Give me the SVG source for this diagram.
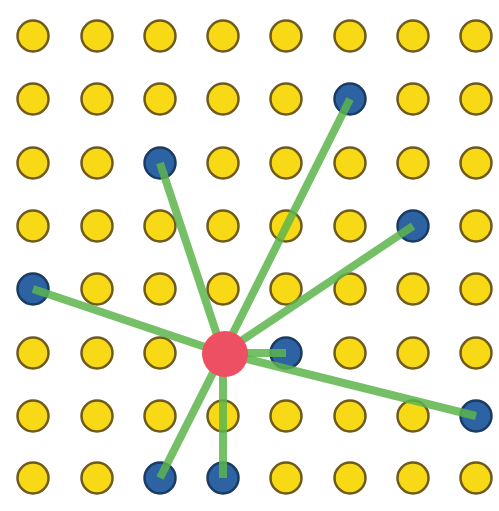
<svg xmlns="http://www.w3.org/2000/svg" width="499" height="511" viewBox="0 0 499 511">
<style>
.y{fill:#f8d916;stroke:#6e5a1c;stroke-width:2.5}
.b{fill:#2d62a3;stroke:#1a3b63;stroke-width:2.5}
.r{fill:#ec5062}
.c line{stroke:#5db54c;stroke-width:8;stroke-opacity:0.85;stroke-linecap:butt}
circle{r:15.5px}
</style>
<rect width="499" height="511" fill="#ffffff"/>
<g id="grid">
<g id="n0-0"><circle class="y" cx="33" cy="36" r="15.5"/></g>
<g id="n0-1"><circle class="y" cx="97" cy="36" r="15.5"/></g>
<g id="n0-2"><circle class="y" cx="160" cy="36" r="15.5"/></g>
<g id="n0-3"><circle class="y" cx="223" cy="36" r="15.5"/></g>
<g id="n0-4"><circle class="y" cx="286" cy="36" r="15.5"/></g>
<g id="n0-5"><circle class="y" cx="350" cy="36" r="15.5"/></g>
<g id="n0-6"><circle class="y" cx="413" cy="36" r="15.5"/></g>
<g id="n0-7"><circle class="y" cx="476" cy="36" r="15.5"/></g>
<g id="n1-0"><circle class="y" cx="33" cy="99" r="15.5"/></g>
<g id="n1-1"><circle class="y" cx="97" cy="99" r="15.5"/></g>
<g id="n1-2"><circle class="y" cx="160" cy="99" r="15.5"/></g>
<g id="n1-3"><circle class="y" cx="223" cy="99" r="15.5"/></g>
<g id="n1-4"><circle class="y" cx="286" cy="99" r="15.5"/></g>
<g id="n1-5"><circle class="b" cx="350" cy="99" r="15.5"/></g>
<g id="n1-6"><circle class="y" cx="413" cy="99" r="15.5"/></g>
<g id="n1-7"><circle class="y" cx="476" cy="99" r="15.5"/></g>
<g id="n2-0"><circle class="y" cx="33" cy="163" r="15.5"/></g>
<g id="n2-1"><circle class="y" cx="97" cy="163" r="15.5"/></g>
<g id="n2-2"><circle class="b" cx="160" cy="163" r="15.5"/></g>
<g id="n2-3"><circle class="y" cx="223" cy="163" r="15.5"/></g>
<g id="n2-4"><circle class="y" cx="286" cy="163" r="15.5"/></g>
<g id="n2-5"><circle class="y" cx="350" cy="163" r="15.5"/></g>
<g id="n2-6"><circle class="y" cx="413" cy="163" r="15.5"/></g>
<g id="n2-7"><circle class="y" cx="476" cy="163" r="15.5"/></g>
<g id="n3-0"><circle class="y" cx="33" cy="226" r="15.5"/></g>
<g id="n3-1"><circle class="y" cx="97" cy="226" r="15.5"/></g>
<g id="n3-2"><circle class="y" cx="160" cy="226" r="15.5"/></g>
<g id="n3-3"><circle class="y" cx="223" cy="226" r="15.5"/></g>
<g id="n3-4"><circle class="y" cx="286" cy="226" r="15.5"/></g>
<g id="n3-5"><circle class="y" cx="350" cy="226" r="15.5"/></g>
<g id="n3-6"><circle class="b" cx="413" cy="226" r="15.5"/></g>
<g id="n3-7"><circle class="y" cx="476" cy="226" r="15.5"/></g>
<g id="n4-0"><circle class="b" cx="33" cy="289" r="15.5"/></g>
<g id="n4-1"><circle class="y" cx="97" cy="289" r="15.5"/></g>
<g id="n4-2"><circle class="y" cx="160" cy="289" r="15.5"/></g>
<g id="n4-3"><circle class="y" cx="223" cy="289" r="15.5"/></g>
<g id="n4-4"><circle class="y" cx="286" cy="289" r="15.5"/></g>
<g id="n4-5"><circle class="y" cx="350" cy="289" r="15.5"/></g>
<g id="n4-6"><circle class="y" cx="413" cy="289" r="15.5"/></g>
<g id="n4-7"><circle class="y" cx="476" cy="289" r="15.5"/></g>
<g id="n5-0"><circle class="y" cx="33" cy="353" r="15.5"/></g>
<g id="n5-1"><circle class="y" cx="97" cy="353" r="15.5"/></g>
<g id="n5-2"><circle class="y" cx="160" cy="353" r="15.5"/></g>
<g id="n5-4"><circle class="b" cx="286" cy="353" r="15.5"/></g>
<g id="n5-5"><circle class="y" cx="350" cy="353" r="15.5"/></g>
<g id="n5-6"><circle class="y" cx="413" cy="353" r="15.5"/></g>
<g id="n5-7"><circle class="y" cx="476" cy="353" r="15.5"/></g>
<g id="n6-0"><circle class="y" cx="33" cy="416" r="15.5"/></g>
<g id="n6-1"><circle class="y" cx="97" cy="416" r="15.5"/></g>
<g id="n6-2"><circle class="y" cx="160" cy="416" r="15.5"/></g>
<g id="n6-3"><circle class="y" cx="223" cy="416" r="15.5"/></g>
<g id="n6-4"><circle class="y" cx="286" cy="416" r="15.5"/></g>
<g id="n6-5"><circle class="y" cx="350" cy="416" r="15.5"/></g>
<g id="n6-6"><circle class="y" cx="413" cy="416" r="15.5"/></g>
<g id="n6-7"><circle class="b" cx="476" cy="416" r="15.5"/></g>
<g id="n7-0"><circle class="y" cx="33" cy="478" r="15.5"/></g>
<g id="n7-1"><circle class="y" cx="97" cy="478" r="15.5"/></g>
<g id="n7-2"><circle class="b" cx="160" cy="478" r="15.5"/></g>
<g id="n7-3"><circle class="b" cx="223" cy="478" r="15.5"/></g>
<g id="n7-4"><circle class="y" cx="286" cy="478" r="15.5"/></g>
<g id="n7-5"><circle class="y" cx="350" cy="478" r="15.5"/></g>
<g id="n7-6"><circle class="y" cx="413" cy="478" r="15.5"/></g>
<g id="n7-7"><circle class="y" cx="476" cy="478" r="15.5"/></g>
</g>
<g id="connectors" class="c">
<line x1="223" y1="353" x2="160" y2="163"/>
<line x1="223" y1="353" x2="350" y2="99"/>
<line x1="223" y1="353" x2="413" y2="226"/>
<line x1="223" y1="353" x2="33" y2="289"/>
<line x1="223" y1="353" x2="286" y2="353"/>
<line x1="223" y1="353" x2="476" y2="416"/>
<line x1="223" y1="353" x2="160" y2="478"/>
<line x1="223" y1="353" x2="223" y2="478"/>
</g>
<g id="center"><circle class="r" cx="225" cy="354" r="23" style="r:23px"/></g>
</svg>
